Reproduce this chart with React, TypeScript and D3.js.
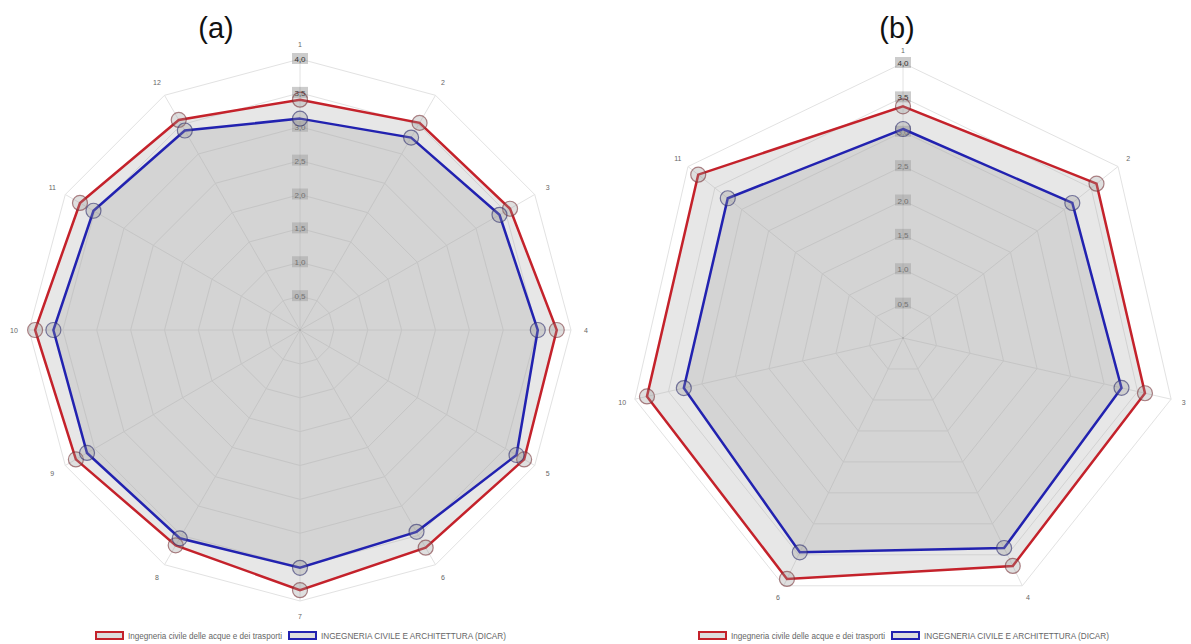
import React from 'react';
import * as d3 from 'd3';

const axesA = ['1', '2', '3', '4', '5', '6', '7', '8', '9', '10', '11', '12'];
const redA = [3.4, 3.53, 3.58, 3.79, 3.82, 3.71, 3.84, 3.67, 3.82, 3.91, 3.75, 3.58];
const blueA = [3.12, 3.28, 3.4, 3.51, 3.69, 3.44, 3.51, 3.55, 3.63, 3.64, 3.52, 3.4];

const axesB = ['1', '2', '3', '4', '6', '10', '11'];
const redB = [3.37, 3.6, 3.61, 3.68, 3.89, 3.82, 3.81];
const blueB = [3.04, 3.15, 3.26, 3.39, 3.46, 3.27, 3.26];

const tickValues = [0.5, 1, 1.5, 2, 2.5, 3, 3.5, 4];
const tickLabels = ['0,5', '1,0', '1,5', '2,0', '2,5', '3,0', '3,5', '4,0'];

const seriesNames = ['Ingegneria civile delle acque e dei trasporti', 'INGEGNERIA CIVILE E ARCHITETTURA (DICAR)'];
const RED = '#c4222b';
const BLUE = '#2222b0';
const FONT = '"Liberation Sans", Arial, Helvetica, sans-serif';

type PanelProps = {
  cx: number;
  cy: number;
  radius: number;
  axes: string[];
  red: number[];
  blue: number[];
  title: string;
  titleX: number;
  legendX: number;
  labelOffset: number;
};

function RadarPanel({ cx, cy, radius, axes, red, blue, title, titleX, legendX, labelOffset }: PanelProps) {
  const r = d3.scaleLinear().domain([0, 4]).range([0, radius]);
  const n = axes.length;
  const angle = d3.scaleLinear().domain([0, n]).range([0, 2 * Math.PI]);
  const pt = (i: number, v: number): [number, number] => {
    const a = angle(i);
    return [cx + Math.sin(a) * r(v), cy - Math.cos(a) * r(v)];
  };
  const radial = (vals: number[]) =>
    d3
      .lineRadial<number>()
      .angle((_, i) => angle(i))
      .radius((d) => r(d))
      .curve(d3.curveLinearClosed)(vals) as string;

  const gridLevels = tickValues.map((t) => radial(axes.map(() => t)));

  return (
    <g>
      <text x={titleX} y={38} textAnchor="middle" fontSize={29} fontFamily={FONT} fill="#111">
        {title}
      </text>
      {/* grid */}
      <g transform={`translate(${cx},${cy})`}>
        {gridLevels.map((d, i) => (
          <path key={i} d={d} fill="none" stroke="#e2e2e2" strokeWidth={1} />
        ))}
      </g>
      {axes.map((_, i) => {
        const [x, y] = pt(i, 4);
        return <line key={i} x1={cx} y1={cy} x2={x} y2={y} stroke="#e2e2e2" strokeWidth={1} />;
      })}
      {/* tick labels */}
      {tickValues.map((t, i) => (
        <g key={i}>
          <rect x={cx - 8} y={cy - r(t) - 6} width={16} height={11} fill="rgba(0,0,0,0.2)" />
          <text
            x={cx}
            y={cy - r(t) + 3}
            textAnchor="middle"
            fontSize={8}
            fontFamily={FONT}
            fill="#333"
          >
            {tickLabels[i]}
          </text>
        </g>
      ))}
      {/* fills */}
      <g transform={`translate(${cx},${cy})`}>
        <path d={radial(red)} fill="rgba(170,170,170,0.28)" stroke="none" />
        <path d={radial(blue)} fill="rgba(170,170,170,0.32)" stroke="none" />
        <path d={radial(red)} fill="none" stroke={RED} strokeWidth={2.5} strokeLinejoin="miter" />
        <path d={radial(blue)} fill="none" stroke={BLUE} strokeWidth={2.5} strokeLinejoin="miter" />
      </g>
      {/* points */}
      {red.map((v, i) => {
        const [x, y] = pt(i, v);
        return (
          <circle key={'r' + i} cx={x} cy={y} r={7.5} fill="rgba(150,150,150,0.3)" stroke="rgba(120,50,55,0.6)" strokeWidth={1.2} />
        );
      })}
      {blue.map((v, i) => {
        const [x, y] = pt(i, v);
        return (
          <circle key={'b' + i} cx={x} cy={y} r={7.5} fill="rgba(150,150,150,0.3)" stroke="rgba(45,45,110,0.6)" strokeWidth={1.2} />
        );
      })}
      {/* center dot */}
      <circle cx={cx} cy={cy} r={1} fill="#aaa" />
      {/* axis labels */}
      {axes.map((a, i) => {
        const ang = angle(i);
        const rr = radius + labelOffset;
        const x = cx + Math.sin(ang) * rr;
        const y = cy - Math.cos(ang) * rr;
        return (
          <text key={i} x={x} y={y + 2.5} textAnchor="middle" fontSize={7} fontFamily={FONT} fill="#666">
            {a}
          </text>
        );
      })}
      {/* legend */}
      <g fontFamily={FONT} fontSize={8.5} fill="#666">
        <rect x={legendX} y={632} width={27} height={7} fill="#ddd" stroke={RED} strokeWidth={2} />
        <text x={legendX + 32} y={639} textLength={154} lengthAdjust="spacingAndGlyphs">
          {seriesNames[0]}
        </text>
        <rect x={legendX + 193} y={632} width={27} height={7} fill="#ddd" stroke={BLUE} strokeWidth={2} />
        <text x={legendX + 225} y={639} textLength={185} lengthAdjust="spacingAndGlyphs">
          {seriesNames[1]}
        </text>
      </g>
    </g>
  );
}

export default function App() {
  return (
    <svg
      width={1191}
      height={644}
      viewBox="0 0 1191 644"
      style={{ position: 'fixed', left: 0, top: 0, background: '#fff' }}
    >
      <rect width={1191} height={644} fill="#fff" />
      <RadarPanel
        cx={300}
        cy={330}
        radius={271}
        axes={axesA}
        red={redA}
        blue={blueA}
        title="(a)"
        titleX={216}
        legendX={96}
        labelOffset={15}
      />
      <RadarPanel
        cx={903}
        cy={338}
        radius={275}
        axes={axesB}
        red={redB}
        blue={blueB}
        title="(b)"
        titleX={897}
        legendX={699}
        labelOffset={13}
      />
    </svg>
  );
}
